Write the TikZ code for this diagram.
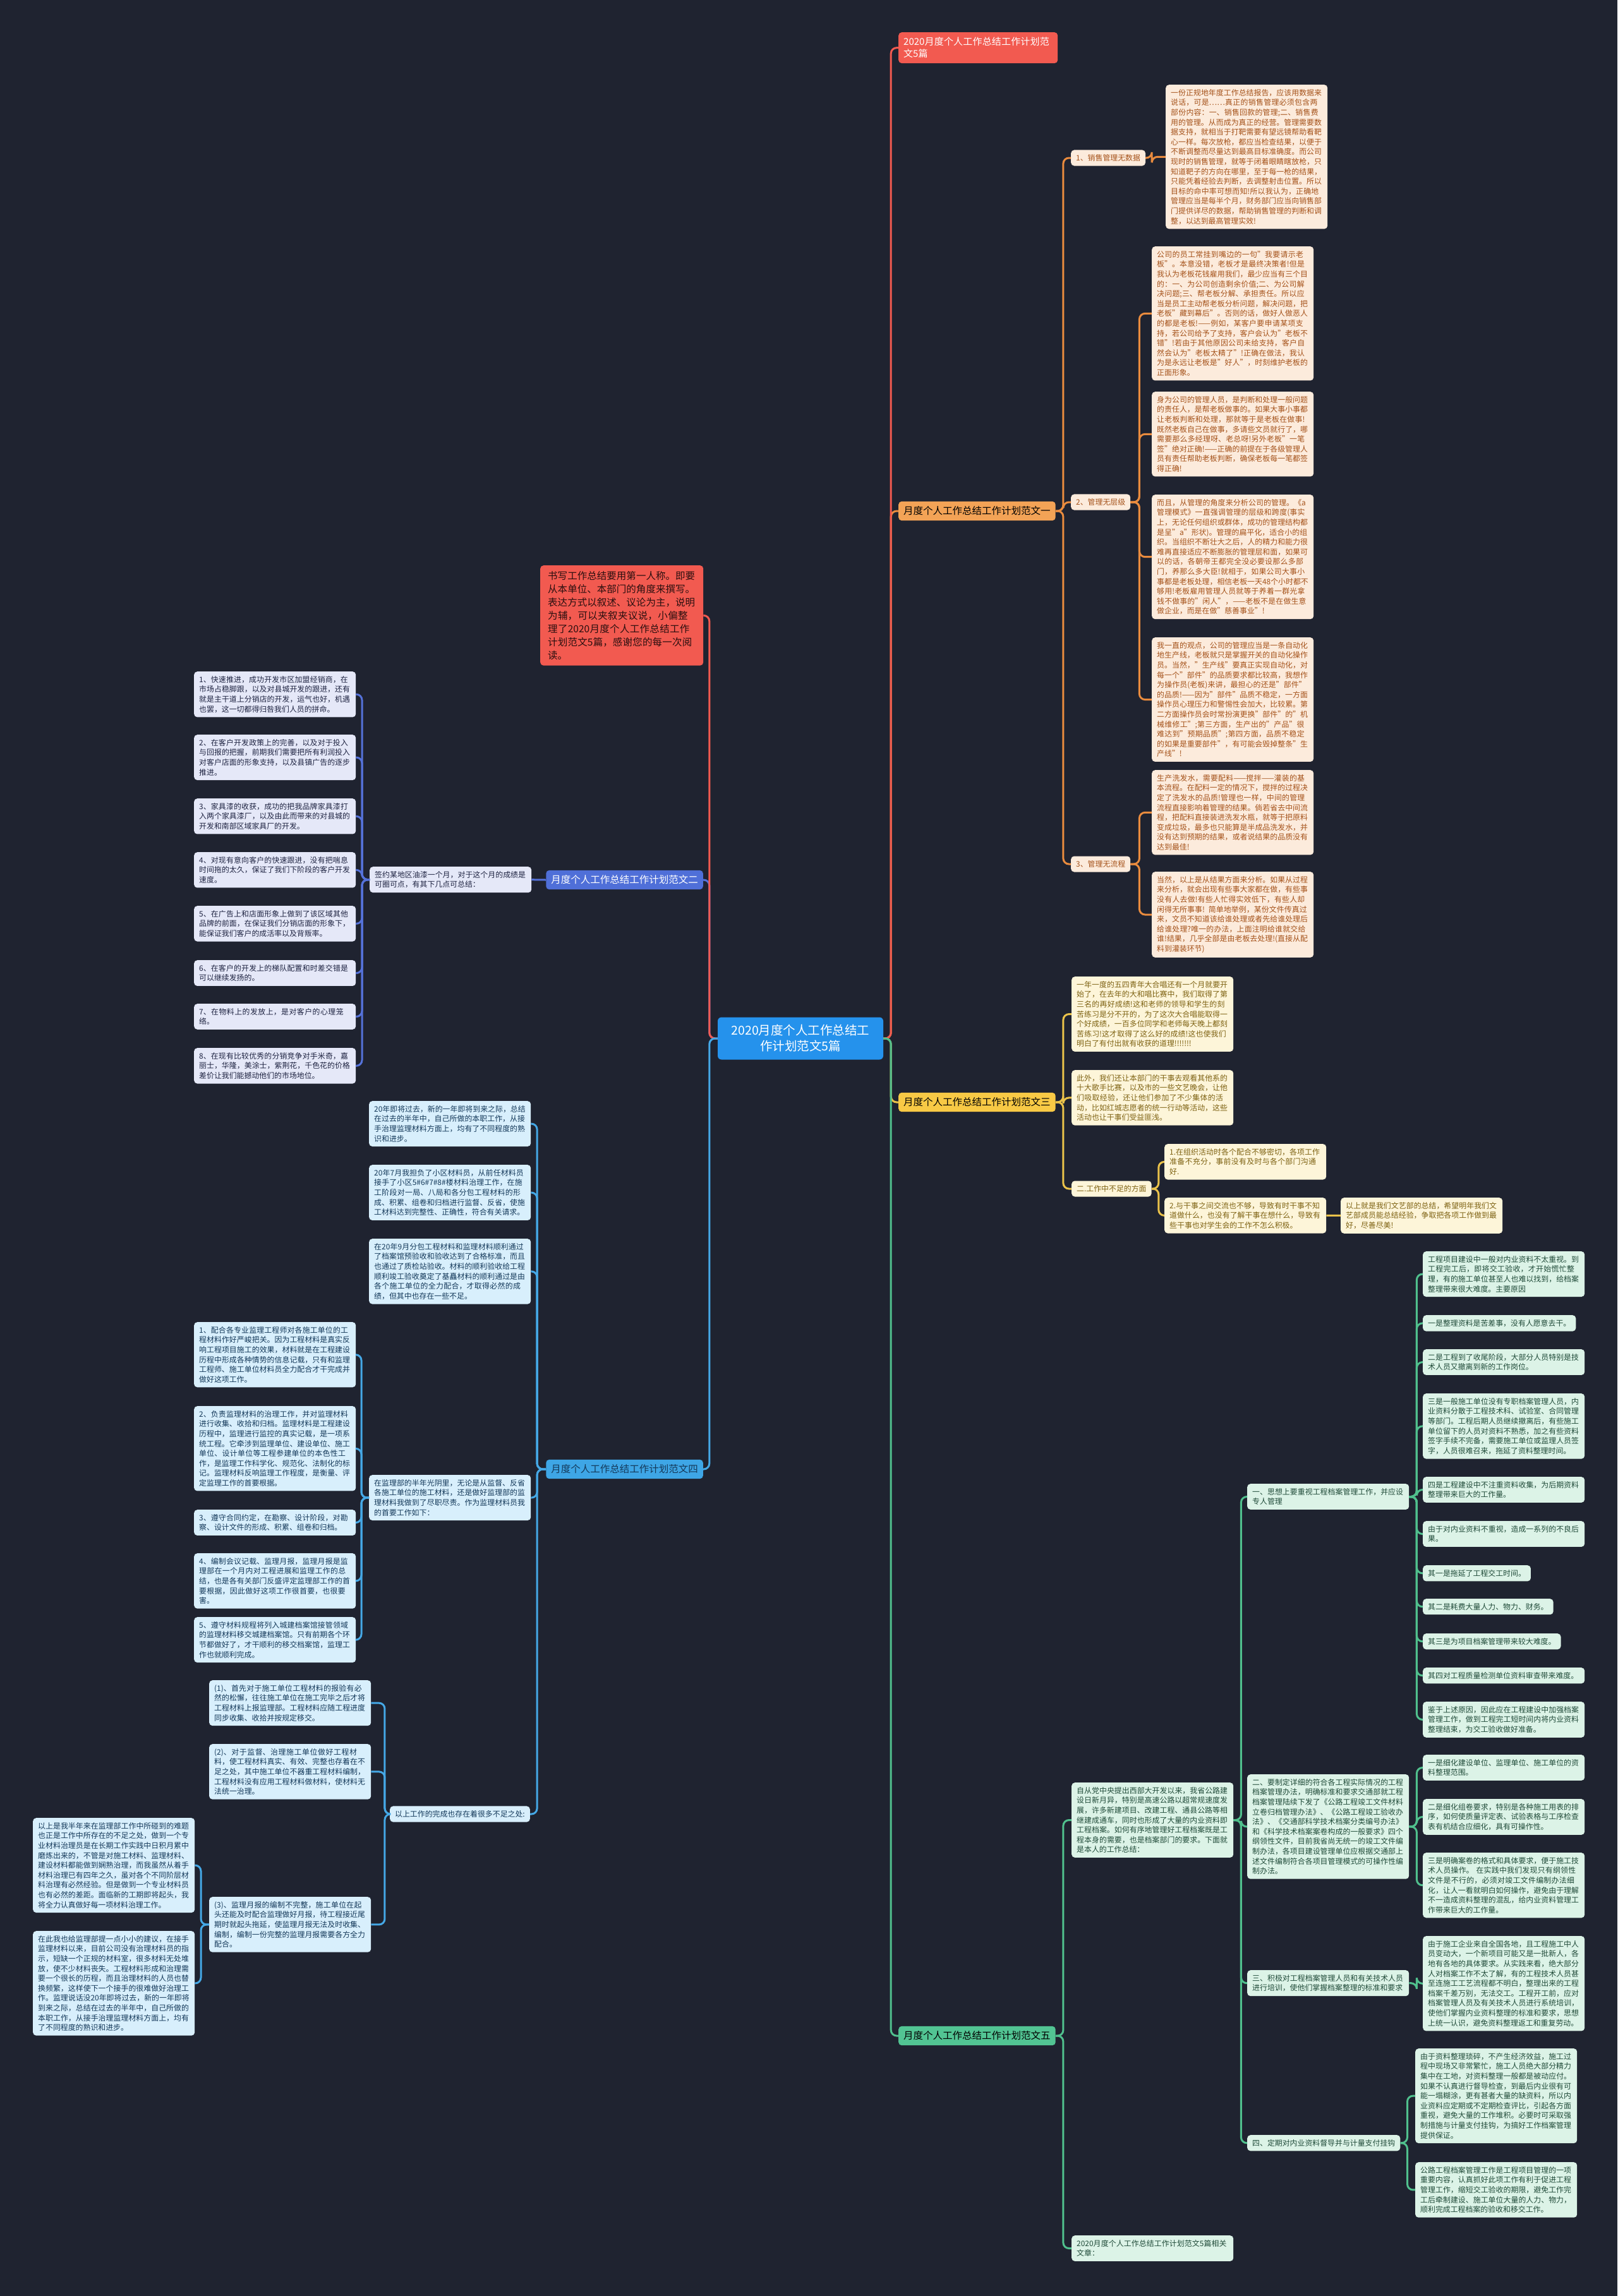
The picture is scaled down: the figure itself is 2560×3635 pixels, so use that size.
\documentclass[tikz,border=0pt]{standalone}
\usepackage{fontspec}
\setmainfont{Noto Sans CJK SC}
\XeTeXlinebreaklocale "zh"
\XeTeXlinebreakskip=0pt plus 1pt
\usetikzlibrary{calc,positioning}

\definecolor{pagebg}{HTML}{1F2330}
\definecolor{rootfill}{HTML}{2592EC}
\definecolor{redfill}{HTML}{F25A50}
\definecolor{redtext}{HTML}{2A0F0F}
\definecolor{orgline}{HTML}{E98B3E}
\definecolor{orgfill}{HTML}{F3A356}
\definecolor{orgpale}{HTML}{FCEBDC}
\definecolor{orgtext}{HTML}{A5521A}
\definecolor{yelline}{HTML}{EAC24A}
\definecolor{yelfill}{HTML}{F8C945}
\definecolor{yelpale}{HTML}{FDF5D9}
\definecolor{yeltext}{HTML}{7E6212}
\definecolor{grnline}{HTML}{50C08D}
\definecolor{grnfill}{HTML}{52C493}
\definecolor{grnpale}{HTML}{DCF3E7}
\definecolor{grntext}{HTML}{204B39}
\definecolor{bluline}{HTML}{5572DA}
\definecolor{blufill}{HTML}{4F6FD8}
\definecolor{blupale}{HTML}{E5E8F8}
\definecolor{blutext}{HTML}{1F2442}
\definecolor{cynline}{HTML}{45A8E6}
\definecolor{cynfill}{HTML}{3EA6E6}
\definecolor{cynpale}{HTML}{D8EFFC}
\definecolor{cyntext}{HTML}{14395A}

\newcommand{\bodysize}{\fontsize{11.9}{15.6}\selectfont}
\newcommand{\headsize}{\fontsize{15.5}{19}\selectfont}

\begin{document}
\begin{tikzpicture}[
    x=1pt, y=-1pt,
    para/.style={anchor=north west, rounded corners=5pt, inner xsep=8pt, inner ysep=7pt, text width=240pt, align=left, font=\bodysize},
    tag/.style={anchor=north west, rounded corners=5pt, inner xsep=8pt, inner ysep=7pt, font=\bodysize},
    topic/.style={rounded corners=5pt, inner xsep=8pt, inner ysep=8pt, font=\headsize},
    link/.style={line width=3pt, rounded corners=9pt},
    org/.style={fill=orgpale, text=orgtext},
    yel/.style={fill=yelpale, text=yeltext},
    grn/.style={fill=grnpale, text=grntext},
    blu/.style={fill=blupale, text=blutext},
    cyn/.style={fill=cynpale, text=cyntext}
]
  \fill[pagebg] (0,0) rectangle (2560,3635);

  % root and first level
  \node[rounded corners=6pt, fill=rootfill, text=white, minimum width=262pt, align=center,
        inner xsep=6pt, inner ysep=12pt, font=\fontsize{19.5}{25}\selectfont] (ctr) at (1267,1644)
        {2020月度个人工作总结工\\作计划范文5篇};
  \node[topic, anchor=north west, fill=redfill, text=white, text width=236pt, align=left,
        font=\fontsize{15}{19}\selectfont] (ttl) at (1422,51) {2020月度个人工作总结工作计划范文5篇};
  \node[topic, anchor=north west, fill=redfill, text=redtext, text width=234pt, align=left,
        inner xsep=12pt, inner ysep=9pt, font=\fontsize{15.5}{21}\selectfont] (note) at (855,895)
        {书写工作总结要用第一人称。即要从本单位、本部门的角度来撰写。表达方式以叙述、议论为主，说明为辅，可以夹叙夹议说，小偏整理了2020月度个人工作总结工作计划范文5篇，感谢您的每一次阅读。};
  \node[topic, anchor=west, fill=orgfill, text=black] (bone) at (1422,809) {月度个人工作总结工作计划范文一};
  \node[topic, anchor=east, fill=blufill, text=white] (btwo) at (1113,1393) {月度个人工作总结工作计划范文二};
  \node[topic, anchor=west, fill=yelfill, text=black] (bthr) at (1422,1745) {月度个人工作总结工作计划范文三};
  \node[topic, anchor=east, fill=cynfill, text=cyntext] (bfour) at (1113,2326) {月度个人工作总结工作计划范文四};
  \node[topic, anchor=west, fill=grnfill, text=black] (bfive) at (1422,3223) {月度个人工作总结工作计划范文五};

  % branch one
  \node[tag, org, anchor=west] (lone) at (1695,250) {1、销售管理无数据};
  \node[tag, org, anchor=west] (ltwo) at (1695,795) {2、管理无层级};
  \node[tag, org, anchor=west] (lthr) at (1695,1368) {3、管理无流程};
  \node[para, org] (oa) at (1845,134) {一份正规地年度工作总结报告，应该用数据来说话，可是……真正的销售管理必须包含两部份内容：一、销售回款的管理;二、销售费用的管理。从而成为真正的经营。管理需要数据支持，就相当于打靶需要有望远镜帮助看靶心一样。每次放枪，都应当检查结果，以便于不断调整而尽量达到最高目标准确度。而公司现时的销售管理，就等于闭着眼睛瞎放枪，只知道靶子的方向在哪里，至于每一枪的结果，只能凭着经验去判断，去调整射击位置。所以目标的命中率可想而知!所以我认为，正确地管理应当是每半个月，财务部门应当向销售部门提供详尽的数据，帮助销售管理的判断和调整，以达到最高管理实效!};
  \node[para, org] (ob) at (1823,390) {公司的员工常挂到嘴边的一句"我要请示老板"。本意没错，老板才是最终决策者!但是我认为老板花钱雇用我们，最少应当有三个目的：一、为公司创造剩余价值;二、为公司解决问题;三、帮老板分解、承担责任。所以应当是员工主动帮老板分析问题，解决问题，把老板"藏到幕后"。否则的话，做好人做恶人的都是老板!——例如，某客户要申请某项支持，若公司给予了支持，客户会认为"老板不错"!若由于其他原因公司未给支持，客户自然会认为"老板太精了"!正确在做法，我认为是永远让老板是"好人"，时刻维护老板的正面形象。};
  \node[para, org] (oc) at (1823,620) {身为公司的管理人员，是判断和处理一般问题的责任人，是帮老板做事的。如果大事小事都让老板判断和处理，那就等于是老板在做事!既然老板自己在做事，多请些文员就行了，哪需要那么多经理呀、老总呀!另外老板"一笔签"绝对正确!——正确的前提在于各级管理人员有责任帮助老板判断，确保老板每一笔都签得正确!};
  \node[para, org] (od) at (1823,783) {而且，从管理的角度来分析公司的管理。《a管理模式》一直强调管理的层级和跨度(事实上，无论任何组织或群体，成功的管理结构都是呈"a"形状)。管理的扁平化，适合小的组织。当组织不断壮大之后，人的精力和能力很难再直接适应不断膨胀的管理层和面，如果可以的话，各朝帝王都完全没必要设那么多部门，养那么多大臣!就相于，如果公司大事小事都是老板处理，相信老板一天48个小时都不够用!老板雇用管理人员就等于养着一群光拿钱不做事的"闲人"，——老板不是在做生意做企业，而是在做"慈善事业"!};
  \node[para, org] (oe) at (1823,1009) {我一直的观点，公司的管理应当是一条自动化地生产线，老板就只是掌握开关的自动化操作员。当然，"生产线"要真正实现自动化，对每一个"部件"的品质要求都比较高，我想作为操作员(老板)来讲，最担心的还是"部件"的品质!——因为"部件"品质不稳定，一方面操作员心理压力和警惕性会加大，比较累。第二方面操作员会时常扮演更换"部件"的"机械维修工";第三方面，生产出的"产品"很难达到"预期品质";第四方面，品质不稳定的如果是重要部件"，有可能会毁掉整条"生产线"!};
  \node[para, org] (of) at (1823,1219) {生产洗发水，需要配料——搅拌——灌装的基本流程。在配料一定的情况下，搅拌的过程决定了洗发水的品质!管理也一样，中间的管理流程直接影响着管理的结果。倘若省去中间流程，把配料直接装进洗发水瓶，就等于把原料变成垃圾，最多也只能算是半成品洗发水，并没有达到预期的结果，或者说结果的品质没有达到最佳!};
  \node[para, org] (og) at (1823,1380) {当然，以上是从结果方面来分析。如果从过程来分析，就会出现有些事大家都在做，有些事没有人去做!有些人忙得实效低下，有些人却闲得无所事事! 简单地举例，某份文件传真过来，文员不知道该给谁处理或者先给谁处理后给谁处理?唯一的办法，上面注明给谁就交给谁!结果，几乎全部是由老板去处理!(直接从配料到灌装环节)};

  % branch three
  \node[para, yel] (ya) at (1696,1546) {一年一度的五四青年大合唱还有一个月就要开始了，在去年的大和唱比赛中，我们取得了第三名的再好成绩!这和老师的领导和学生的刻苦练习是分不开的，为了这次大合唱能取得一个好成绩，一百多位同学和老师每天晚上都刻苦练习!这才取得了这么好的成绩!这也使我们明白了有付出就有收获的道理!!!!!!!};
  \node[para, yel] (yb) at (1696,1694) {此外，我们还让本部门的干事去观看其他系的十大歌手比赛，以及市的一些文艺晚会，让他们吸取经验，还让他们参加了不少集体的活动，比如红城志愿者的统一行动等活动，这些活动也让干事们受益匪浅。};
  \node[tag, yel, anchor=west] (lbad) at (1696,1882) {二.工作中不足的方面};
  \node[para, yel] (yc) at (1843,1811) {1.在组织活动时各个配合不够密切，各项工作准备不充分，事前没有及时与各个部门沟通好.};
  \node[para, yel] (yd) at (1843,1896) {2.与干事之间交流也不够，导致有时干事不知道做什么，也没有了解干事在想什么，导致有些干事也对学生会的工作不怎么积极。};
  \node[para, yel] (ye) at (2122,1896) {以上就是我们文艺部的总结，希望明年我们文艺部成员能总结经验，争取把各项工作做到最好，尽善尽美!};

  % branch five
  \node[para, grn] (intro) at (1696,2822) {自从党中央提出西部大开发以来，我省公路建设日新月异，特别是高速公路以超常规速度发展，许多新建项目、改建工程、通县公路等相继建成通车，同时也形成了大量的内业资料即工程档案。如何有序地管理好工程档案既是工程本身的需要，也是档案部门的要求。下面就是本人的工作总结：};
  \node[para, grn] (rel) at (1696,3539) {2020月度个人工作总结工作计划范文5篇相关文章：};
  \node[para, grn] (la) at (1974,2349) {一、思想上要重视工程档案管理工作，并应设专人管理};
  \node[para, grn] (lb) at (1974,2809) {二、要制定详细的符合各工程实际情况的工程档案管理办法，明确标准和要求交通部就工程档案管理陆续下发了《公路工程竣工文件材料立卷归档管理办法》、《公路工程竣工验收办法》、《交通部科学技术档案分类编号办法》和《科学技术档案案卷构成的一般要求》四个纲领性文件，目前我省尚无统一的竣工文件编制办法，各项目建设管理单位应根据交通部上述文件编制符合各项目管理模式的可操作性编制办法。};
  \node[para, grn] (lc) at (1974,3119) {三、积极对工程档案管理人员和有关技术人员进行培训，使他们掌握档案整理的标准和要求};
  \node[tag, grn] (ld) at (1974,3380) {四、定期对内业资料督导并与计量支付挂钩};

  \node[para, grn] (fa1) at (2252,1981) {工程项目建设中一般对内业资料不太重视。到工程完工后，即将交工验收，才开始慌忙整理，有的施工单位甚至人也难以找到，给档案整理带来很大难度。主要原因};
  \node[tag, grn] (fa2) at (2252,2082) {一是整理资料是苦差事，没有人愿意去干。};
  \node[para, grn] (fa3) at (2252,2136) {二是工程到了收尾阶段，大部分人员特别是技术人员又撤离到新的工作岗位。};
  \node[para, grn] (fa4) at (2252,2206) {三是一般施工单位没有专职档案管理人员，内业资料分散于工程技术科、试验室、合同管理等部门。工程后期人员继续撤离后，有些施工单位留下的人员对资料不熟悉，加之有些资料签字手续不完备，需要施工单位或监理人员签字，人员很难召来，拖延了资料整理时间。};
  \node[para, grn] (fa5) at (2252,2338) {四是工程建设中不注重资料收集，为后期资料整理带来巨大的工作量。};
  \node[para, grn] (fa6) at (2252,2408) {由于对内业资料不重视，造成一系列的不良后果。};
  \node[tag, grn] (fa7) at (2252,2478) {其一是拖延了工程交工时间。};
  \node[tag, grn] (fa8) at (2252,2531) {其二是耗费大量人力、物力、财务。};
  \node[tag, grn] (fa9) at (2252,2586) {其三是为项目档案管理带来较大难度。};
  \node[para, grn] (fa10) at (2252,2640) {其四对工程质量检测单位资料审查带来难度。};
  \node[para, grn] (fa11) at (2252,2694) {鉴于上述原因，因此应在工程建设中加强档案管理工作，做到工程完工短时间内将内业资料整理结束，为交工验收做好准备。};
  \node[para, grn] (fb1) at (2252,2778) {一是细化建设单位、监理单位、施工单位的资料整理范围。};
  \node[para, grn] (fb2) at (2252,2848) {二是细化组卷要求，特别是各种施工用表的排序，如何使质量评定表、试验表格与工序检查表有机结合应细化，具有可操作性。};
  \node[para, grn] (fb3) at (2252,2933) {三是明确案卷的格式和具体要求，便于施工技术人员操作。 在实践中我们发现只有纲领性文件是不行的，必须对竣工文件编制办法细化，让人一看就明白如何操作，避免由于理解不一造成资料整理的混乱，给内业资料管理工作带来巨大的工作量。};
  \node[para, grn] (fc1) at (2252,3065) {由于施工企业来自全国各地，且工程施工中人员变动大，一个新项目可能又是一批新人，各地有各地的具体要求。从实践来看，绝大部分人对档案工作不太了解，有的工程技术人员甚至连施工工艺流程都不明白，整理出来的工程档案千差万别，无法交工。工程开工前，应对档案管理人员及有关技术人员进行系统培训，使他们掌握内业资料整理的标准和要求，思想上统一认识，避免资料整理返工和重复劳动。};
  \node[para, grn] (fd1) at (2240,3243) {由于资料整理琐碎，不产生经济效益，施工过程中现场又非常繁忙，施工人员绝大部分精力集中在工地，对资料整理一般都是被动应付。如果不认真进行督导检查，到最后内业很有可能一塌糊涂，更有甚者大量的缺资料，所以内业资料应定期或不定期检查评比，引起各方面重视，避免大量的工作堆积。必要时可采取强制措施与计量支付挂钩，为搞好工作档案管理提供保证。};
  \node[para, grn] (fd2) at (2240,3423) {公路工程档案管理工作是工程项目管理的一项重要内容，认真抓好此项工作有利于促进工程管理工作，缩短交工验收的期限，避免工作完工后牵制建设、施工单位大量的人力、物力，顺利完成工程档案的验收和移交工作。};

  % branch two
  \node[para, blu] (mid) at (585,1372) {签约某地区油漆一个月，对于这个月的成绩是可圈可点，有其下几点可总结：};
  \node[para, blu] (pa) at (307,1063) {1、快速推进，成功开发市区加盟经销商，在市场占稳脚跟，以及对县城开发的跟进，还有就是主干道上分销店的开发，运气也好，机遇也罢，这一切都得归咎我们人员的拼命。};
  \node[para, blu] (pb) at (307,1163) {2、在客户开发政策上的完善，以及对于投入与回报的把握，前期我们需要把所有利润投入对客户店面的形象支持，以及县镇广告的逐步推进。};
  \node[para, blu] (pc) at (307,1264) {3、家具漆的收获，成功的把我品牌家具漆打入两个家具漆厂，以及由此而带来的对县城的开发和南部区域家具厂的开发。};
  \node[para, blu] (pd) at (307,1349) {4、对现有意向客户的快速跟进，没有把喘息时间拖的太久，保证了我们下阶段的客户开发速度。};
  \node[para, blu] (pe) at (307,1434) {5、在广告上和店面形象上做到了该区域其他品牌的前面，在保证我们分销店面的形象下，能保证我们客户的成活率以及背叛率。};
  \node[para, blu] (pf) at (307,1520) {6、在客户的开发上的梯队配置和时差交错是可以继续发扬的。};
  \node[para, blu] (pg) at (307,1589) {7、在物料上的发放上，是对客户的心理笼络。};
  \node[para, blu] (ph) at (307,1659) {8、在现有比较优秀的分销竞争对手米奇，嘉丽士，华隆，美涂士，紫荆花，千色花的价格差价让我们能撼动他们的市场地位。};

  % branch four
  \node[para, cyn] (qa) at (584,1743) {20年即将过去，新的一年即将到来之际，总结在过去的半年中，自己所做的本职工作，从接手治理监理材料方面上，均有了不同程度的熟识和进步。};
  \node[para, cyn] (qb) at (584,1844) {20年7月我担负了小区材料员，从前任材料员接手了小区5\#6\#7\#8\#楼材料治理工作，在施工阶段对一局、八局和各分包工程材料的形成、积累、组卷和归档进行监督、反省，使施工材料达到完整性、正确性，符合有关请求。};
  \node[para, cyn] (qc) at (584,1961) {在20年9月分包工程材料和监理材料顺利通过了档案馆预验收和验收达到了合格标准，而且也通过了质检站验收。材料的顺利验收给工程顺利竣工验收奠定了基矗材料的顺利通过是由各个施工单位的全力配合，才取得必然的成绩，但其中也存在一些不足。};
  \node[para, cyn] (qd) at (584,2335) {在监理部的半年光阴里，无论是从监督、反省各施工单位的施工材料，还是做好监理部的监理材料我做到了尽职尽责。作为监理材料员我的首要工作如下：};
  \node[tag, cyn, anchor=east] (lless) at (839,2872) {以上工作的完成也存在着很多不足之处:};
  \node[para, cyn] (qd1) at (307,2093) {1、配合各专业监理工程师对各施工单位的工程材料作好严峻把关。因为工程材料是真实反响工程项目施工的效果，材料就是在工程建设历程中形成各种情势的信息记载，只有和监理工程师、施工单位材料员全力配合才干完成并做好这项工作。};
  \node[para, cyn] (qd2) at (307,2226) {2、负责监理材料的治理工作，并对监理材料进行收集、收拾和归档。监理材料是工程建设历程中，监理进行监控的真实记载，是一项系统工程。它牵涉到监理单位、建设单位、施工单位、设计单位等工程参建单位的本色性工作，是监理工作科学化、规范化、法制化的标记。监理材料反响监理工作程度，是衡量、评定监理工作的首要根据。};
  \node[para, cyn] (qd3) at (307,2390) {3、遵守合同约定，在勘察、设计阶段，对勘察、设计文件的形成、积累、组卷和归档。};
  \node[para, cyn] (qd4) at (307,2459) {4、编制会议记载、监理月报，监理月报是监理部在一个月内对工程进展和监理工作的总结，也是各有关部门反盛评定监理部工作的首要根据，因此做好这项工作很首要，也很要害。};
  \node[para, cyn] (qd5) at (307,2560) {5、遵守材料规程将列入城建档案馆接管领域的监理材料移交城建档案馆。只有前期各个环节都做好了，才干顺利的移交档案馆，监理工作也就顺利完成。};
  \node[para, cyn] (qe1) at (331,2660) {(1)、首先对于施工单位工程材料的报验有必然的松懈，往往施工单位在施工完毕之后才将工程材料上报监理部。工程材料应随工程进度同步收集、收拾并按规定移交。};
  \node[para, cyn] (qe2) at (331,2761) {(2)、对于监督、治理施工单位做好工程材料，使工程材料真实、有效、完整也存着在不足之处，其中施工单位不器重工程材料编制，工程材料没有应用工程材料做材料，使材料无法统一治理。};
  \node[para, cyn] (qe3) at (331,3003) {(3)、监理月报的编制不完整，施工单位在起头还能及时配合监理做好月报，待工程接近尾期时就起头拖延，使监理月报无法及时收集、编制，编制一份完整的监理月报需要各方全力配合。};
  \node[para, cyn] (qf1) at (52,2878) {以上是我半年来在监理部工作中所碰到的难题也正是工作中所存在的不足之处，做到一个专业材料治理员是在长期工作实践中日积月累中磨炼出来的，不管是对施工材料、监理材料、建设材料都能做到娴熟治理，而我虽然从着手材料治理已有四年之久，虽对各个不同阶层材料治理有必然经验。但是做到一个专业材料员也有必然的差距。面临新的工期即将起头，我将全力认真做好每一项材料治理工作。};
  \node[para, cyn] (qf2) at (52,3057) {在此我也给监理部提一点小小的建议，在接手监理材料以来，目前公司没有治理材料员的指示，短缺一个正规的材料室，很多材料无处堆放，使不少材料丧失。工程材料形成和治理需要一个很长的历程，而且治理材料的人员也替换频繁，这样使下一个接手的很难做好治理工作。监理说话没20年即将过去，新的一年即将到来之际，总结在过去的半年中，自己所做的本职工作，从接手治理监理材料方面上，均有了不同程度的熟识和进步。};

  % connectors from the root
  \draw[link, orgline] (ctr.east) -- ++(12,0) |- (bone.west);
  \draw[link, yelline] (ctr.east) -- ++(12,0) |- (bthr.west);
  \draw[link, redfill] (ctr.east) -- ++(12,0) |- (ttl.west);
  \draw[link, grnline] (ctr.east) -- ++(12,0) |- (bfive.west);
  \draw[link, bluline] (ctr.west) -- ++(-13,0) |- (btwo.east);
  \draw[link, redfill] (ctr.west) -- ++(-13,0) |- (note.east);
  \draw[link, cynline] (ctr.west) -- ++(-13,0) |- (bfour.east);

  % branch one links
  \foreach \k in {lone,ltwo,lthr}
    \draw[link, orgline] (bone.east) -- ++(12,0) |- (\k.west);
  \draw[link, orgline] (lone.east) -- ++(10,0) |- (oa.west);
  \foreach \k in {ob,oc,od,oe}
    \draw[link, orgline] (ltwo.east) -- ++(14,0) |- (\k.west);
  \foreach \k in {of,og}
    \draw[link, orgline] (lthr.east) -- ++(14,0) |- (\k.west);

  % branch three links
  \foreach \k in {ya,yb,lbad}
    \draw[link, yelline] (bthr.east) -- ++(12,0) |- (\k.west);
  \foreach \k in {yc,yd}
    \draw[link, yelline] (lbad.east) -- ++(11,0) |- (\k.west);
  \draw[link, yelline] (yd.east) -- (ye.west);

  % branch five links
  \foreach \k in {intro,rel}
    \draw[link, grnline] (bfive.east) -- ++(12,0) |- (\k.west);
  \foreach \k in {la,lb,lc,ld}
    \draw[link, grnline] (intro.east) -- ++(12,0) |- (\k.west);
  \foreach \k in {fa1,fa2,fa3,fa4,fa5,fa6,fa7,fa8,fa9,fa10,fa11}
    \draw[link, grnline] (la.east) -- ++(12,0) |- (\k.west);
  \foreach \k in {fb1,fb2,fb3}
    \draw[link, grnline] (lb.east) -- ++(12,0) |- (\k.west);
  \draw[link, grnline] (lc.east) -- ++(12,0) |- (fc1.west);
  \foreach \k in {fd1,fd2}
    \draw[link, grnline] (ld.east) -- ++(11,0) |- (\k.west);

  % branch two links
  \draw[link, bluline] (btwo.west) -- (mid.east);
  \foreach \k in {pa,pb,pc,pd,pe,pf,pg,ph}
    \draw[link, bluline] (mid.west) -- ++(-12,0) |- (\k.east);

  % branch four links
  \foreach \k in {qa,qb,qc,qd,lless}
    \draw[link, cynline] (bfour.west) -- ++(-14,0) |- (\k.east);
  \foreach \k in {qd1,qd2,qd3,qd4,qd5}
    \draw[link, cynline] (qd.west) -- ++(-12,0) |- (\k.east);
  \foreach \k in {qe1,qe2,qe3}
    \draw[link, cynline] (lless.west) -- ++(-8,0) |- (\k.east);
  \foreach \k in {qf1,qf2}
    \draw[link, cynline] (qe3.west) -- ++(-13,0) |- (\k.east);
\end{tikzpicture}
\end{document}
